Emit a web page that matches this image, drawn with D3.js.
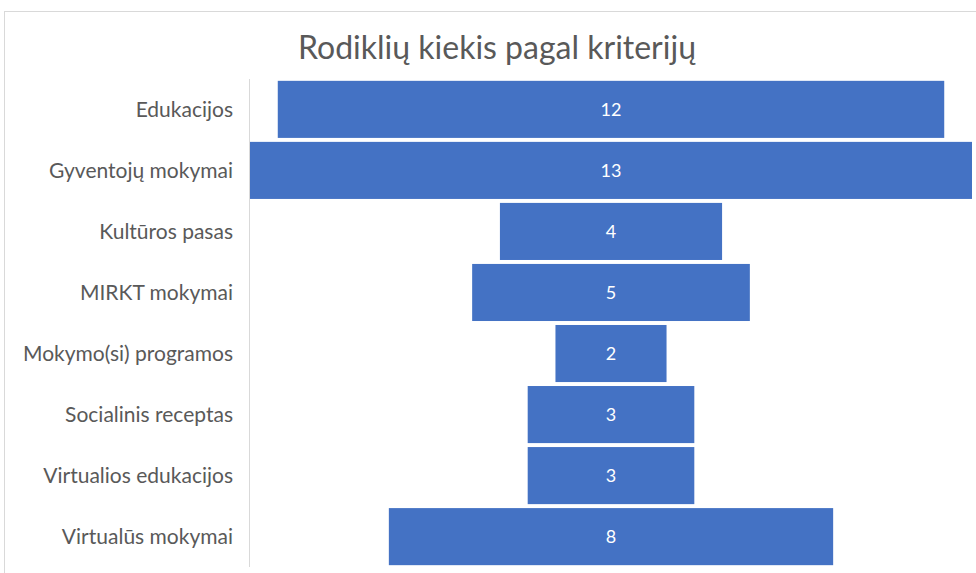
<!DOCTYPE html>
<html>
<head>
<meta charset="utf-8">
<script src="https://cdn.jsdelivr.net/npm/d3@7"></script>
<style>
  body { margin: 0; background: #fff; }
  svg { display: block; }
</style>
</head>
<body>
<svg id="chart"></svg>
<script>
// Data
var categories = ["Edukacijos", "Gyventojų mokymai", "Kultūros pasas", "MIRKT mokymai",
    "Mokymo(si) programos", "Socialinis receptas", "Virtualios edukacijos", "Virtualūs mokymai"];
var values = [12, 13, 4, 5, 2, 3, 3, 8];
var title = "Rodiklių kiekis pagal kriterijų";

var width = 976;
var height = 573;
var fontFamily = "Lato, 'Open Sans', sans-serif";

var svg = d3.select("#chart")
    .attr("width", width)
    .attr("height", height);

// Chart area border (top and left edge visible)
svg.append("rect")
    .attr("x", 4.5).attr("y", 11.5)
    .attr("width", 1000).attr("height", 600)
    .attr("fill", "#fff")
    .attr("stroke", "#d9d9d9");

// Title
svg.append("text")
    .attr("x", 497).attr("y", 59)
    .attr("text-anchor", "middle")
    .style("font-family", fontFamily)
    .style("font-size", "32px")
    .attr("fill", "#595959")
    .text(title);

// Plot area: bars centred around the middle
var plotLeft = 250, plotRight = 972;
var center = (plotLeft + plotRight) / 2;
var x = d3.scaleLinear()
    .domain([0, d3.max(values)])
    .range([0, plotRight - plotLeft]);

var y = d3.scaleBand()
    .domain(categories)
    .range([79, 567])
    .paddingInner(0.065)
    .paddingOuter(0.03);

// Axis line
svg.append("line")
    .attr("x1", 249.5).attr("x2", 249.5)
    .attr("y1", 79).attr("y2", 567)
    .attr("stroke", "#d9d9d9")
    .attr("stroke-width", 1);

// Bars
svg.selectAll("rect.bar")
    .data(values)
    .enter().append("rect")
    .attr("class", "bar")
    .attr("x", function (d) { return center - x(d) / 2; })
    .attr("y", function (d, i) { return y(categories[i]); })
    .attr("width", function (d) { return x(d); })
    .attr("height", y.bandwidth())
    .attr("fill", "#4472c4");

// Value labels
svg.selectAll("text.value")
    .data(values)
    .enter().append("text")
    .attr("class", "value")
    .attr("x", center)
    .attr("y", function (d, i) { return y(categories[i]) + y.bandwidth() / 2; })
    .attr("dy", "0.35em")
    .attr("text-anchor", "middle")
    .style("font-family", fontFamily)
    .style("font-size", "18px")
    .attr("fill", "#fff")
    .text(function (d) { return d; });

// Category labels
svg.selectAll("text.cat")
    .data(categories)
    .enter().append("text")
    .attr("class", "cat")
    .attr("x", 233)
    .attr("y", function (d) { return y(d) + y.bandwidth() / 2; })
    .attr("dy", "0.35em")
    .attr("text-anchor", "end")
    .style("font-family", fontFamily)
    .style("font-size", "21px")
    .attr("fill", "#595959")
    .text(function (d) { return d; });
</script>
</body>
</html>
